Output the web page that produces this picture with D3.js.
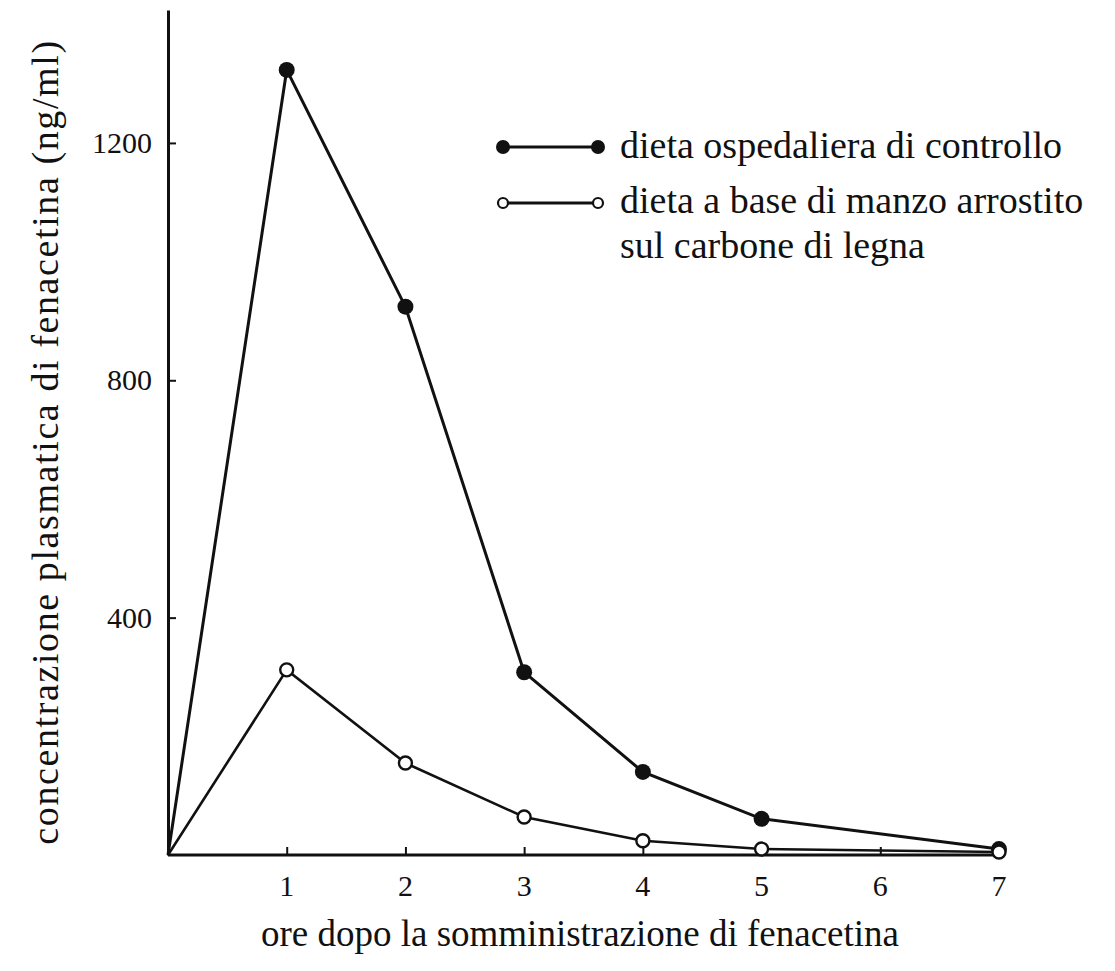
<!DOCTYPE html>
<html><head><meta charset="utf-8">
<script src="https://cdn.jsdelivr.net/npm/d3@7"></script>
<style>body{margin:0;background:#fff}svg{display:block}text{font-family:"Liberation Serif","DejaVu Serif",serif;fill:#111}</style>
</head><body><svg id="c" width="1115" height="971"></svg>
<script>
const hours = [0, 1, 2, 3, 4, 5, 7];
const controlValues = [0, 1323, 924, 308, 140, 61, 10];
const charcoalValues = [0, 312, 155, 64, 24, 10, 5];
const xTickValues = [1, 2, 3, 4, 5, 6, 7];
const yTickValues = [400, 800, 1200];
const seriesNames = ["dieta ospedaliera di controllo", "dieta a base di manzo arrostito", "sul carbone di legna"];
const xTitle = "ore dopo la somministrazione di fenacetina";
const yTitle = "concentrazione plasmatica di fenacetina (ng/ml)";

const svg = d3.select("#c");
const x = d3.scaleLinear().domain([0, 7]).range([168, 999]);
const y = d3.scaleLinear().domain([0, 1424]).range([855, 10]);

// axes
const xAxis = d3.axisBottom(x).tickValues(xTickValues).tickSizeInner(-8).tickSizeOuter(0).tickFormat("");
const gx = svg.append("g").attr("transform", "translate(0,855)").call(xAxis);
gx.select(".domain").attr("stroke", "#111").attr("stroke-width", 3).attr("d", `M${x(0)},0H${x(7)+4}`);
gx.selectAll(".tick line").attr("stroke", "#111").attr("stroke-width", 2);
const yAxis = d3.axisLeft(y).tickValues(yTickValues).tickSizeInner(-8).tickSizeOuter(0).tickFormat("");
const gy = svg.append("g").attr("transform", "translate(168,0)").call(yAxis);
gy.select(".domain").attr("stroke", "#111").attr("stroke-width", 3);
gy.selectAll(".tick line").attr("stroke", "#111").attr("stroke-width", 2);

// tick labels
svg.selectAll(".xl").data(xTickValues).enter().append("text")
  .attr("x", d => x(d)).attr("y", 896).attr("text-anchor", "middle")
  .attr("font-size", 30).text(d => d);
svg.selectAll(".yl").data(yTickValues).enter().append("text")
  .attr("x", 152).attr("y", d => y(d) + 10).attr("text-anchor", "end")
  .attr("font-size", 30).text(d => d);

// titles
svg.append("text").attr("x", 580).attr("y", 946).attr("text-anchor", "middle")
  .attr("font-size", 37).text(xTitle);
svg.append("text").attr("transform", "translate(58,442) rotate(-90)").attr("text-anchor", "middle")
  .attr("font-size", 38).attr("letter-spacing", 1.6).text(yTitle);

// lines
const line = d3.line().x((d, i) => x(hours[i])).y(d => y(d));
svg.append("path").datum(charcoalValues).attr("d", line).attr("fill", "none").attr("stroke", "#111").attr("stroke-width", 2.6);
svg.append("path").datum(controlValues).attr("d", line).attr("fill", "none").attr("stroke", "#111").attr("stroke-width", 3);

svg.selectAll(".cm").data(controlValues.slice(1)).enter().append("circle")
  .attr("cx", (d, i) => x(hours[i + 1])).attr("cy", d => y(d)).attr("r", 8).attr("fill", "#111");
svg.selectAll(".om").data(charcoalValues.slice(1)).enter().append("circle")
  .attr("cx", (d, i) => x(hours[i + 1])).attr("cy", d => y(d)).attr("r", 6.5).attr("fill", "#fff")
  .attr("stroke", "#111").attr("stroke-width", 2.4);

// legend
const lg = svg.append("g");
lg.append("line").attr("x1", 503).attr("x2", 598).attr("y1", 147).attr("y2", 147).attr("stroke", "#111").attr("stroke-width", 3);
lg.append("circle").attr("cx", 503).attr("cy", 147).attr("r", 7).attr("fill", "#111");
lg.append("circle").attr("cx", 598).attr("cy", 147).attr("r", 7).attr("fill", "#111");
lg.append("line").attr("x1", 503).attr("x2", 598).attr("y1", 203).attr("y2", 203).attr("stroke", "#111").attr("stroke-width", 3);
lg.append("circle").attr("cx", 503).attr("cy", 203).attr("r", 5).attr("fill", "#fff").attr("stroke", "#111").attr("stroke-width", 2.2);
lg.append("circle").attr("cx", 598).attr("cy", 203).attr("r", 5).attr("fill", "#fff").attr("stroke", "#111").attr("stroke-width", 2.2);
lg.append("text").attr("x", 620).attr("y", 158).attr("font-size", 38).text(seriesNames[0]);
lg.append("text").attr("x", 620).attr("y", 213).attr("font-size", 38).text(seriesNames[1]);
lg.append("text").attr("x", 620).attr("y", 258).attr("font-size", 38).text(seriesNames[2]);
</script></body></html>
